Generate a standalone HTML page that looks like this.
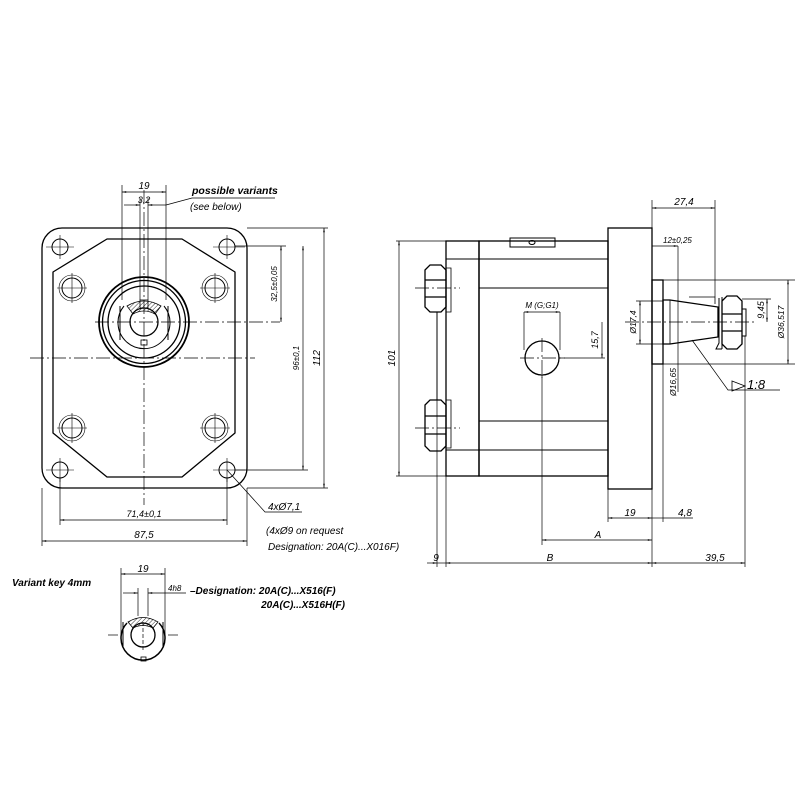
<!DOCTYPE html>
<html><head><meta charset="utf-8"><style>
html,body{margin:0;padding:0;background:#fff}
svg text{font-family:"Liberation Sans",sans-serif;font-style:italic;fill:#000}
</style></head><body>
<svg width="800" height="800" viewBox="0 0 800 800" xmlns="http://www.w3.org/2000/svg">
<defs>
<marker id="a" viewBox="0 0 10 10" refX="10" refY="5" markerWidth="8" markerHeight="6" orient="auto-start-reverse"><path d="M0,3 L10,5 L0,7 z" fill="#000"/></marker>
<pattern id="h" width="3" height="3" patternUnits="userSpaceOnUse" patternTransform="rotate(45)"><line x1="0" y1="0" x2="0" y2="3" stroke="#000" stroke-width="0.8"/></pattern>
</defs>
<g fill="none" stroke="#000" stroke-width="1.3">
<!-- FRONT VIEW -->
<rect x="42" y="228" width="205" height="260" rx="20"/>
<path d="M107,239 L182,239 L235,272 L235,433 L182,477 L107,477 L53,433 L53,272 Z" stroke-linejoin="round"/>
<g stroke-width="1">
<circle cx="60" cy="247" r="8"/><circle cx="227" cy="247" r="8"/>
<circle cx="60" cy="470" r="8"/><circle cx="227" cy="470" r="8"/>
<circle cx="72" cy="288" r="10"/><circle cx="215" cy="288" r="10"/>
<circle cx="72" cy="428" r="10"/><circle cx="215" cy="428" r="10"/>
<circle cx="72" cy="288" r="13" stroke-width="0.6"/><circle cx="215" cy="288" r="13" stroke-width="0.6"/>
<circle cx="72" cy="428" r="13" stroke-width="0.6"/><circle cx="215" cy="428" r="13" stroke-width="0.6"/>
</g>
<circle cx="144" cy="322" r="45" stroke-width="1.8"/>
<circle cx="144" cy="322" r="41.5"/>
<circle cx="144" cy="322" r="36"/>
<path d="M124,306 A26,26 0 1 0 164,306" stroke-width="1"/>
<path d="M120,306 L120,340 M168,306 L168,340" stroke-width="1"/>
<circle cx="144" cy="322" r="14"/>
<path d="M127,306 Q144,296 161,306 L155,314 Q144,308 133,314 Z" fill="url(#h)" stroke-width="0.8"/>
<rect x="140" y="300" width="8" height="8" stroke-width="0.8"/>
<rect x="141" y="340" width="6" height="5" stroke-width="0.8"/>
<!-- centerlines -->
<g stroke-width="0.7" stroke-dasharray="14,3,2,3">
<line x1="30" y1="358" x2="255" y2="358"/>
<line x1="144" y1="190" x2="144" y2="505"/>
<line x1="95" y1="322" x2="280" y2="322"/>
</g>
<g stroke-width="0.6">
<line x1="46" y1="247" x2="74" y2="247"/><line x1="60" y1="235" x2="60" y2="259"/>
<line x1="213" y1="247" x2="245" y2="247"/><line x1="227" y1="235" x2="227" y2="259"/>
<line x1="46" y1="470" x2="74" y2="470"/><line x1="60" y1="458" x2="60" y2="482"/>
<line x1="213" y1="470" x2="245" y2="470"/><line x1="227" y1="458" x2="227" y2="482"/>
<line x1="57" y1="288" x2="87" y2="288"/><line x1="72" y1="273" x2="72" y2="303"/>
<line x1="200" y1="288" x2="230" y2="288"/><line x1="215" y1="273" x2="215" y2="303"/>
<line x1="57" y1="428" x2="87" y2="428"/><line x1="72" y1="413" x2="72" y2="443"/>
<line x1="200" y1="428" x2="230" y2="428"/><line x1="215" y1="413" x2="215" y2="443"/>
</g>
<!-- front dims -->
<g stroke-width="0.7">
<line x1="122" y1="185" x2="122" y2="300"/><line x1="166" y1="185" x2="166" y2="300"/>
<line x1="122" y1="192" x2="166" y2="192" marker-start="url(#a)" marker-end="url(#a)"/>
<line x1="140" y1="198" x2="140" y2="300"/><line x1="148" y1="198" x2="148" y2="300"/>
<line x1="124" y1="205" x2="140" y2="205" marker-end="url(#a)"/><line x1="166" y1="205" x2="148" y2="205" marker-end="url(#a)"/>
<path d="M166,205 L192,198 L275,198"/>
<line x1="235" y1="246" x2="286" y2="246"/><line x1="235" y1="470" x2="308" y2="470"/>
<line x1="247" y1="228" x2="328" y2="228"/><line x1="247" y1="488" x2="328" y2="488"/>
<line x1="281" y1="246" x2="281" y2="322" marker-start="url(#a)" marker-end="url(#a)"/>
<line x1="303" y1="246" x2="303" y2="470" marker-start="url(#a)" marker-end="url(#a)"/>
<line x1="324" y1="228" x2="324" y2="488" marker-start="url(#a)" marker-end="url(#a)"/>
<line x1="60" y1="478" x2="60" y2="525"/><line x1="227" y1="478" x2="227" y2="525"/>
<line x1="42" y1="488" x2="42" y2="546"/><line x1="247" y1="488" x2="247" y2="546"/>
<line x1="60" y1="520" x2="227" y2="520" marker-start="url(#a)" marker-end="url(#a)"/>
<line x1="42" y1="541" x2="247" y2="541" marker-start="url(#a)" marker-end="url(#a)"/>
<path d="M227,470 L265,512 L302,512"/>
</g>
<!-- SIDE VIEW -->
<rect x="446" y="241" width="33" height="235"/>
<rect x="479" y="241" width="129" height="235"/>
<rect x="608" y="228" width="44" height="261"/>
<rect x="652" y="280" width="11" height="84"/>
<g stroke-width="1">
<line x1="446" y1="259" x2="608" y2="259"/><line x1="479" y1="288" x2="608" y2="288"/>
<line x1="479" y1="421" x2="608" y2="421"/><line x1="446" y1="450" x2="608" y2="450"/>
<rect x="510" y="238" width="45" height="9"/>
<ellipse cx="532" cy="242.5" rx="3" ry="2"/>
<line x1="437" y1="312" x2="437" y2="400"/>
</g>
<path d="M425,270 L430,265 L441,265 L446,270 L446,307 L441,312 L430,312 L425,307 Z M425,280 L446,280 M425,297 L446,297"/>
<path d="M425,405 L430,400 L441,400 L446,405 L446,446 L441,451 L430,451 L425,446 Z M425,416 L446,416 M425,434 L446,434"/>
<path d="M446,312 L451,312 L451,268 L446,268 M446,400 L451,400 L451,448 L446,448" stroke-width="0.8"/>
<circle cx="542" cy="358" r="17"/>
<path d="M527,350 A17,17 0 0 1 552,344" stroke-width="0.6"/>
<!-- shaft -->
<path d="M663,300 L670,300 L718,307 L718,337 L670,344 L663,344 Z"/>
<line x1="670" y1="300" x2="670" y2="344" stroke-width="0.8"/>
<path d="M689,297 L715,297 L715,304" stroke-width="0.8"/>
<path d="M719,298 L719,343 L716,349 L722,349 M722,297 L722,349" stroke-width="1"/>
<path d="M722,301 L727,296 L737,296 L742,301 L742,344 L737,349 L727,349 L722,344 Z M722,314 L742,314 M722,331 L742,331"/>
<rect x="742" y="309" width="4" height="27" stroke-width="1"/>
<g stroke-width="0.7" stroke-dasharray="14,3,2,3">
<line x1="415" y1="288" x2="460" y2="288"/><line x1="415" y1="428" x2="460" y2="428"/>
<line x1="520" y1="358" x2="565" y2="358"/><line x1="542" y1="338" x2="542" y2="378"/>
<line x1="625" y1="322" x2="755" y2="322"/>
</g>
<!-- side dims -->
<g stroke-width="0.7">
<line x1="396" y1="241" x2="446" y2="241"/><line x1="396" y1="476" x2="446" y2="476"/>
<line x1="399" y1="241" x2="399" y2="476" marker-start="url(#a)" marker-end="url(#a)"/>
<line x1="524" y1="312" x2="524" y2="350"/><line x1="560" y1="312" x2="560" y2="350"/>
<line x1="524" y1="312" x2="560" y2="312" marker-start="url(#a)" marker-end="url(#a)"/>
<line x1="559" y1="358" x2="605" y2="358"/><line x1="602" y1="322" x2="602" y2="358" marker-end="url(#a)"/>
<line x1="636" y1="301" x2="663" y2="301"/><line x1="636" y1="344" x2="663" y2="344"/>
<line x1="640" y1="301" x2="640" y2="344" marker-start="url(#a)" marker-end="url(#a)"/>
<line x1="678" y1="246" x2="678" y2="392"/>
<line x1="652" y1="200" x2="652" y2="228"/><line x1="715" y1="200" x2="715" y2="297"/>
<line x1="652" y1="208" x2="715" y2="208" marker-start="url(#a)" marker-end="url(#a)"/>
<line x1="652" y1="246" x2="678" y2="246" marker-end="url(#a)"/>
<line x1="663" y1="280" x2="795" y2="280"/><line x1="663" y1="364" x2="795" y2="364"/>
<line x1="788" y1="280" x2="788" y2="364" marker-start="url(#a)" marker-end="url(#a)"/>
<line x1="742" y1="299" x2="771" y2="299"/>
<line x1="767" y1="299" x2="767" y2="322" marker-start="url(#a)" marker-end="url(#a)"/>
<path d="M692,340 L728,390 L780,390"/>
<path d="M732,381 L745,386 L732,391 Z" stroke-width="0.8"/>
<line x1="437" y1="400" x2="437" y2="567"/><line x1="446" y1="476" x2="446" y2="567"/>
<line x1="652" y1="489" x2="652" y2="567"/><line x1="745" y1="336" x2="745" y2="567"/>
<line x1="542" y1="375" x2="542" y2="545"/><line x1="608" y1="489" x2="608" y2="522"/>
<line x1="663" y1="364" x2="663" y2="522"/>
<line x1="608" y1="518" x2="652" y2="518" marker-start="url(#a)" marker-end="url(#a)"/>
<line x1="652" y1="518" x2="663" y2="518"/><line x1="663" y1="518" x2="693" y2="518"/>
<line x1="542" y1="540" x2="652" y2="540" marker-start="url(#a)" marker-end="url(#a)"/>
<line x1="446" y1="563" x2="652" y2="563" marker-start="url(#a)" marker-end="url(#a)"/>
<line x1="427" y1="563" x2="437" y2="563" marker-end="url(#a)"/><line x1="437" y1="563" x2="446" y2="563"/>
<line x1="652" y1="563" x2="745" y2="563" marker-start="url(#a)" marker-end="url(#a)"/>
</g>
<!-- VARIANT -->
<path d="M127,623 A22,22 0 1 0 159,623" stroke-width="1.5"/>
<path d="M123,622 L123,648 M163,622 L163,648" stroke-width="1"/>
<circle cx="143" cy="635" r="12"/>
<path d="M128,622 Q143,613 158,622 L153,628 Q143,623 133,628 Z" fill="url(#h)" stroke-width="0.8"/>
<rect x="141" y="657" width="5" height="4" stroke-width="0.8"/>
<g stroke-width="0.7">
<line x1="121" y1="568" x2="121" y2="640"/><line x1="165" y1="568" x2="165" y2="640"/>
<line x1="121" y1="574" x2="165" y2="574" marker-start="url(#a)" marker-end="url(#a)"/>
<line x1="138" y1="588" x2="138" y2="616"/><line x1="148" y1="588" x2="148" y2="616"/>
<line x1="123" y1="593" x2="138" y2="593" marker-end="url(#a)"/><line x1="165" y1="593" x2="148" y2="593" marker-end="url(#a)"/>
<line x1="165" y1="593" x2="186" y2="593"/>
<line x1="108" y1="635" x2="118" y2="635"/><line x1="168" y1="635" x2="178" y2="635"/>
<line x1="143" y1="622" x2="143" y2="650" stroke-dasharray="4,2"/>
</g>
</g>
<!-- TEXT -->
<g font-size="10">
<text x="144" y="189" text-anchor="middle">19</text>
<text x="144" y="203" text-anchor="middle" font-size="9">3,2</text>
<text x="192" y="194" font-size="10.5" font-weight="bold">possible variants</text>
<text x="190" y="210">(see below)</text>
<text transform="translate(277,284) rotate(-90)" text-anchor="middle" font-size="8">32,5±0,05</text>
<text transform="translate(299,358) rotate(-90)" text-anchor="middle" font-size="8">96±0,1</text>
<text transform="translate(320,358) rotate(-90)" text-anchor="middle">112</text>
<text x="144" y="517" text-anchor="middle" font-size="9">71,4±0,1</text>
<text x="144" y="538" text-anchor="middle">87,5</text>
<text x="268" y="510">4xØ7,1</text>
<text x="266" y="534">(4xØ9 on request</text>
<text x="268" y="550">Designation: 20A(C)...X016F)</text>
<text transform="translate(395,358) rotate(-90)" text-anchor="middle">101</text>
<text x="542" y="308" text-anchor="middle" font-size="8">M (G;G1)</text>
<text transform="translate(598,340) rotate(-90)" text-anchor="middle" font-size="9">15,7</text>
<text transform="translate(636,322) rotate(-90)" text-anchor="middle" font-size="8.5">Ø17,4</text>
<text transform="translate(676,382) rotate(-90)" text-anchor="middle" font-size="8.5">Ø16,65</text>
<text x="684" y="205" text-anchor="middle">27,4</text>
<text x="663" y="243" font-size="8">12±0,25</text>
<text transform="translate(764,310) rotate(-90)" text-anchor="middle" font-size="9">9,45</text>
<text transform="translate(784,322) rotate(-90)" text-anchor="middle" font-size="8.5">Ø36,517</text>
<text x="747" y="389" font-size="13">1:8</text>
<text x="630" y="516" text-anchor="middle">19</text>
<text x="685" y="516" text-anchor="middle">4,8</text>
<text x="598" y="538" text-anchor="middle">A</text>
<text x="550" y="561" text-anchor="middle">B</text>
<text x="436" y="561" text-anchor="middle">9</text>
<text x="715" y="561" text-anchor="middle">39,5</text>
<text x="12" y="586" font-weight="bold">Variant key 4mm</text>
<text x="143" y="572" text-anchor="middle">19</text>
<text x="168" y="591" font-size="8">4h8</text>
<text x="190" y="594" font-weight="bold">–Designation: 20A(C)...X516(F)</text>
<text x="345" y="608" text-anchor="end" font-weight="bold">20A(C)...X516H(F)</text>
</g>
</svg>
</body></html>
